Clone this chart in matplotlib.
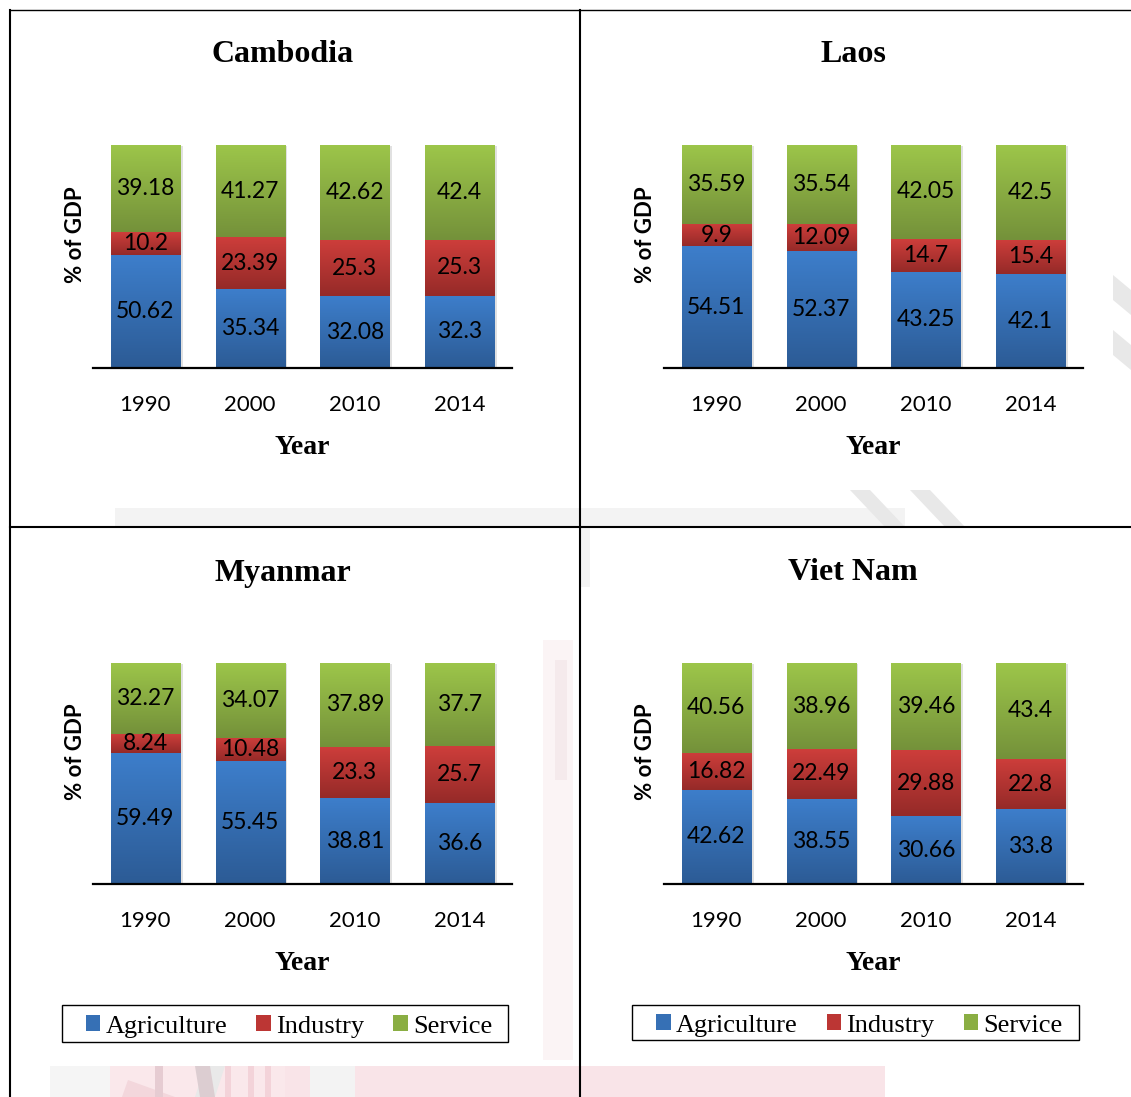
import numpy as np
import matplotlib
matplotlib.use("Agg")
import matplotlib.pyplot as plt
from matplotlib.colors import LinearSegmentedColormap
from matplotlib.patches import Rectangle, Polygon, Patch
from matplotlib.lines import Line2D
import matplotlib.patheffects as pe

# ---------------- data ----------------
years = ["1990", "2000", "2010", "2014"]
countries = ["Cambodia", "Laos", "Myanmar", "Viet Nam"]
sectors = ["Agriculture", "Industry", "Service"]

cambodia_agri = [50.62, 35.34, 32.08, 32.3]
cambodia_ind = [10.2, 23.39, 25.3, 25.3]
cambodia_serv = [39.18, 41.27, 42.62, 42.4]

laos_agri = [54.51, 52.37, 43.25, 42.1]
laos_ind = [9.9, 12.09, 14.7, 15.4]
laos_serv = [35.59, 35.54, 42.05, 42.5]

myanmar_agri = [59.49, 55.45, 38.81, 36.6]
myanmar_ind = [8.24, 10.48, 23.3, 25.7]
myanmar_serv = [32.27, 34.07, 37.89, 37.7]

vietnam_agri = [42.62, 38.55, 30.66, 33.8]
vietnam_ind = [16.82, 22.49, 29.88, 22.8]
vietnam_serv = [40.56, 38.96, 39.46, 43.4]

country_data = {
    "Cambodia": [cambodia_agri, cambodia_ind, cambodia_serv],
    "Laos": [laos_agri, laos_ind, laos_serv],
    "Myanmar": [myanmar_agri, myanmar_ind, myanmar_serv],
    "Viet Nam": [vietnam_agri, vietnam_ind, vietnam_serv],
}

# ---------------- style ----------------
W, H = 1131, 1097
DPI = 100
SERIF = "Liberation Serif"
SANS = "Lato"

grad_colors = {
    "Agriculture": ("#2C5B95", "#3D7ECB"),
    "Industry": ("#952A28", "#CE3E3B"),
    "Service": ("#74913A", "#9DC64A"),
}
mid_colors = {"Agriculture": "#3670B5", "Industry": "#BC3634", "Service": "#8AAE43"}

fig = plt.figure(figsize=(W / DPI, H / DPI), dpi=DPI)
fig.patch.set_facecolor("white")


def fx(x):
    return x / W


def fy(y):
    return 1 - y / H


# ---------------- faint watermark background ----------------
bg = fig.add_axes([0, 0, 1, 1], zorder=-10)
bg.set_xlim(0, W)
bg.set_ylim(H, 0)
bg.axis("off")
bg.add_patch(Rectangle((115, 508), 790, 19, color="#f3f3f3", lw=0))
bg.add_patch(Rectangle((580, 527), 10, 60, color="#f3f3f3", lw=0))
for x0 in (850, 910):
    bg.add_patch(Polygon([(x0, 490), (x0 + 20, 490), (x0 + 55, 527), (x0 + 35, 527)],
                         color="#e8e8e8", lw=0))
bg.add_patch(Rectangle((100, 1066), 440, 31, color="#fae8eb", lw=0))
bg.add_patch(Rectangle((285, 1066), 600, 31, color="#f9e4e8", lw=0))
bg.add_patch(Rectangle((50, 1066), 60, 31, color="#f5f5f5", lw=0))
bg.add_patch(Polygon([(205, 1066), (225, 1066), (215, 1097), (195, 1097)], color="#e9e9e9", lw=0))
bg.add_patch(Polygon([(122, 1097), (128, 1080), (175, 1097)], color="#f3d7dc", lw=0))
bg.add_patch(Rectangle((155, 1066), 8, 31, color="#e6ccd2", lw=0))
bg.add_patch(Polygon([(195, 1066), (210, 1066), (215, 1097), (200, 1097)], color="#dccdd1", lw=0))
for x0 in (225, 248, 265):
    bg.add_patch(Rectangle((x0, 1066), 6, 31, color="#f3d3d9", lw=0))
bg.add_patch(Rectangle((310, 1066), 45, 31, color="#f3f3f3", lw=0))
bg.add_patch(Rectangle((543, 640), 30, 420, color="#fbf4f5", lw=0))
bg.add_patch(Rectangle((555, 660), 12, 120, color="#f5eaec", lw=0))
for y0 in (275, 330):
    bg.add_patch(Polygon([(1113, y0), (1131, y0 + 15), (1131, y0 + 40), (1113, y0 + 25)],
                         color="#e8e8e8", lw=0))

# ---------------- panels ----------------
panels = {
    "Cambodia": (93, 145, 512, 368),
    "Laos": (664, 145, 1083, 368),
    "Myanmar": (93, 663, 512, 884),
    "Viet Nam": (664, 663, 1083, 884),
}
title_pos = {
    "Cambodia": (283, 54),
    "Laos": (853, 54),
    "Myanmar": (283, 573),
    "Viet Nam": (853, 573),
}

grad = np.linspace(1, 0, 256).reshape(-1, 1)
bar_w = 0.66

for country in countries:
    l, t, r, b = panels[country]
    ax = fig.add_axes([fx(l), fy(b), (r - l) / W, (b - t) / H])
    ax.patch.set_alpha(0)
    vals = np.array(country_data[country], dtype=float)
    totals = vals.sum(axis=0)
    pct = vals / totals * 100
    x = np.arange(len(years))
    bottom = np.zeros(len(years))
    for si, sector in enumerate(sectors):
        cmap = LinearSegmentedColormap.from_list(sector, list(grad_colors[sector]))
        bars = ax.bar(x, pct[si], bar_w, bottom=bottom, color=mid_colors[sector],
                      linewidth=0, zorder=2,
                      path_effects=[pe.SimplePatchShadow(offset=(2.0, -1.0),
                                                         shadow_rgbFace="#888888",
                                                         alpha=0.25),
                                    pe.Normal()])
        for patch, raw in zip(bars, vals[si]):
            x0, y0 = patch.get_x(), patch.get_y()
            w, h = patch.get_width(), patch.get_height()
            im = ax.imshow(grad, cmap=cmap, vmin=0, vmax=1, origin="upper",
                           extent=(x0, x0 + w, y0, y0 + h), aspect="auto",
                           zorder=3, interpolation="bilinear")
            im.set_clip_path(patch)
            ax.text(x0 + w / 2, y0 + h / 2, f"{raw:g}", ha="center", va="center",
                    fontsize=16.5, family=SANS, color="black", zorder=5)
        bottom = bottom + pct[si]

    ax.set_xlim(-0.5, len(years) - 0.5)
    ax.set_ylim(0, 100)
    ax.set_aspect("auto")
    ax.set_yticks([])
    ax.set_xticks(x)
    ax.set_xticklabels(years, fontsize=16, family=SANS)
    ax.tick_params(axis="x", length=0, pad=19.5)
    for s in ("top", "left", "right"):
        ax.spines[s].set_visible(False)
    ax.spines["bottom"].set_linewidth(1.6)
    ax.spines["bottom"].set_color("black")
    ax.spines["bottom"].set_zorder(6)

    tx, ty = title_pos[country]
    fig.text(fx(tx), fy(ty), country, ha="center", va="center", fontsize=23,
             fontweight="bold", family=SERIF)
    fig.text(fx((l + r) / 2), fy(b + 79), "Year", ha="center", va="center",
             fontsize=20, fontweight="bold", family=SERIF)
    fig.text(fx(l - 18), fy((t + b) / 2 - 22), "% of GDP", ha="center", va="center",
             rotation=90, fontsize=16, fontweight="bold", family=SANS)

# ---------------- legends ----------------
handles = [Patch(facecolor=mid_colors[s], edgecolor="none", label=s) for s in sectors]
legend_boxes = [(62, 1005, 508, 1042), (632, 1005, 1079, 1040)]
for (l, t, r, b) in legend_boxes:
    bg.add_patch(Rectangle((l, t), r - l, b - t, fill=False, edgecolor="black", lw=1.0,
                           zorder=1))
    fig.legend(handles=handles, loc="center",
               bbox_to_anchor=(fx((l + r) / 2 + 4), fy((t + b) / 2 + 3)),
               ncol=3, frameon=False, prop={"family": SERIF, "size": 19},
               handlelength=0.55, handleheight=0.55, handletextpad=0.2,
               columnspacing=1.1, borderpad=0.0)

# ---------------- table lines ----------------
lw = 1.5
bg.add_line(Line2D([10, 1131], [10, 10], color="black", lw=1.0))
bg.add_line(Line2D([10, 10], [10, 1097], color="black", lw=lw))
bg.add_line(Line2D([580, 580], [10, 1097], color="black", lw=lw))
bg.add_line(Line2D([10, 1131], [527, 527], color="black", lw=lw))

fig.savefig("out.png", dpi=DPI, facecolor="white")
